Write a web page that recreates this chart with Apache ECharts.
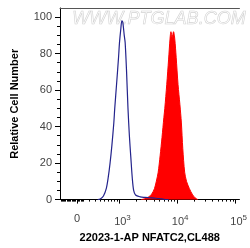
<!DOCTYPE html>
<html><head><meta charset="utf-8">
<script src="https://cdn.jsdelivr.net/npm/echarts@6/dist/echarts.min.js"></script>
<style>html,body{margin:0;padding:0;background:#fff}#c{width:250px;height:248px}</style>
</head><body><div id="c"></div>
<script>
// Blue histogram (control), x in display decades (log10 units), y in % of max
const blueLogX = [2.645,2.694,2.742,2.790,2.823,2.855,2.887,2.919,2.935,2.968,3.000,3.016,3.040,3.056,3.073,3.097,3.113,3.137,3.161,3.185,3.210,3.234,3.258,3.290,3.371,3.452,3.532,3.613,3.694,3.774,3.855];
const blueY    = [0,0.5,2,6,12,20,30,42,50,64,78,86,94,98,97,90,86,70,50,35,23,12,5,2.5,1.5,1.2,1.0,0.8,0.6,0.2,0];
// Red histogram (NFATC2 stained)
const redLogX = [3.387,3.452,3.516,3.565,3.613,3.645,3.677,3.710,3.742,3.774,3.790,3.823,3.855,3.879,3.895,3.916,3.939,3.960,3.984,4.016,4.048,4.073,4.097,4.129,4.161,4.210,4.258,4.306,4.355];
const redY    = [0,0.5,1.5,3,6,10,15,24,34,45,50,63,77,88,92,89,92,88,78,63,52,42,28,15,10,6,3,1,0];
// Axis ticks
const xTickValues = [0, 1000, 10000, 100000];
const xTickLabels = ['0', '10^3', '10^4', '10^5'];
const yTickValues = [0, 20, 40, 60, 80, 100];
const yTickLabels = ['0', '20', '40', '60', '80', '100'];

// biexponential-like display transform (fluorescence -> display decades)
const C = Math.pow(10, 2.29);
function tr(v) { return Math.log10(C) + Math.asinh(v / (2 * C)) / Math.LN10; }

const majorX = xTickValues.map(tr);
const minorXv = [];
for (let v = -260; v <= 80; v += 20) minorXv.push(v);
[100, 1000, 10000].forEach(d => { for (let k = (d === 100 ? 1 : 2); k <= 9; k++) minorXv.push(k * d); });
const minorX = minorXv.map(tr);
const minorY = [];
for (let v = 0; v <= 100; v += 5) minorY.push(v);

function xLabel(val) {
  let best = 0, bd = 1e9;
  majorX.forEach((m, i) => { const d = Math.abs(m - val); if (d < bd) { bd = d; best = i; } });
  const s = xTickLabels[best];
  if (s.indexOf('^') < 0) return s;
  const p = s.split('^');
  return '{b|' + p[0] + '}{s|' + p[1] + '}';
}

const XMIN = 2.0, XMAX = 5.065;
const chart = echarts.init(document.getElementById('c'), null, {renderer: 'canvas'});
chart.setOption({
  animation: false,
  backgroundColor: '#fff',
  grid: {left: 60, right: 0, top: 8, bottom: 44, containLabel: false},
  textStyle: {fontFamily: 'Liberation Sans'},
  graphic: [{
    type: 'text', left: 72, top: 10, silent: true, z: 0,
    style: {text: 'WWW.PTGLAB.COM', font: 'italic 18px "Liberation Sans"', fill: 'rgba(255,255,255,0)', stroke: '#d2d2d2', lineWidth: 0.6}
  }],
  xAxis: [
    {type: 'value', min: XMIN, max: XMAX, position: 'bottom',
     axisLine: {show: true, onZero: false, lineStyle: {color: '#000', width: 1}},
     axisTick: {show: true, customValues: majorX, length: 4, lineStyle: {color: '#000'}},
     axisLabel: {customValues: majorX, margin: 14, color: '#444', fontSize: 11, fontFamily: 'Liberation Sans',
       formatter: xLabel,
       rich: {b: {fontSize: 11, color: '#444', fontFamily: 'Liberation Sans', padding: [0, 0, 0, 6]},
              s: {fontSize: 8, color: '#444', fontFamily: 'Liberation Sans', padding: [0, 0, 8, 0]}}},
     splitLine: {show: false},
     name: '22023-1-AP NFATC2,CL488', nameLocation: 'middle', nameGap: 32,
     nameTextStyle: {fontWeight: 'bold', fontSize: 11, color: '#000', fontFamily: 'Liberation Sans'}},
    {type: 'value', min: XMIN, max: XMAX, position: 'bottom',
     axisLine: {show: false, onZero: false},
     axisTick: {show: true, customValues: minorX, length: 2, lineStyle: {color: '#000'}},
     axisLabel: {show: false}, splitLine: {show: false}},
    {type: 'value', min: XMIN, max: XMAX, position: 'top',
     axisLine: {show: true, onZero: false, lineStyle: {color: '#555', width: 1}},
     axisTick: {show: false}, axisLabel: {show: false}, splitLine: {show: false}}
  ],
  yAxis: [
    {type: 'value', min: 0, max: 105, position: 'left',
     axisLine: {show: true, onZero: false, lineStyle: {color: '#000', width: 1}},
     axisTick: {show: true, customValues: yTickValues, length: 5, lineStyle: {color: '#000'}},
     axisLabel: {customValues: yTickValues, margin: 8, color: '#444', fontSize: 11, fontFamily: 'Liberation Sans',
       formatter: v => yTickLabels[yTickValues.indexOf(Math.round(v))] || ''},
     splitLine: {show: false},
     name: 'Relative Cell Number', nameLocation: 'middle', nameGap: 40, nameRotate: 90,
     nameTextStyle: {fontWeight: 'bold', fontSize: 11, color: '#000', fontFamily: 'Liberation Sans'}},
    {type: 'value', min: 0, max: 105, position: 'left',
     axisLine: {show: false, onZero: false},
     axisTick: {show: true, customValues: minorY, length: 3, lineStyle: {color: '#000'}},
     axisLabel: {show: false}, splitLine: {show: false}}
  ],
  series: [
    {type: 'line', xAxisIndex: 0, yAxisIndex: 0, smooth: 0.3, showSymbol: false, z: 2,
     data: redLogX.map((x, i) => [x, redY[i]]),
     lineStyle: {color: '#ff0000', width: 1}, areaStyle: {color: '#ff0000', opacity: 1}},
    {type: 'line', xAxisIndex: 0, yAxisIndex: 0, smooth: 0.3, showSymbol: false, z: 3,
     data: blueLogX.map((x, i) => [x, blueY[i]]),
     lineStyle: {color: '#23238c', width: 1.2}}
  ]
});
</script></body></html>
